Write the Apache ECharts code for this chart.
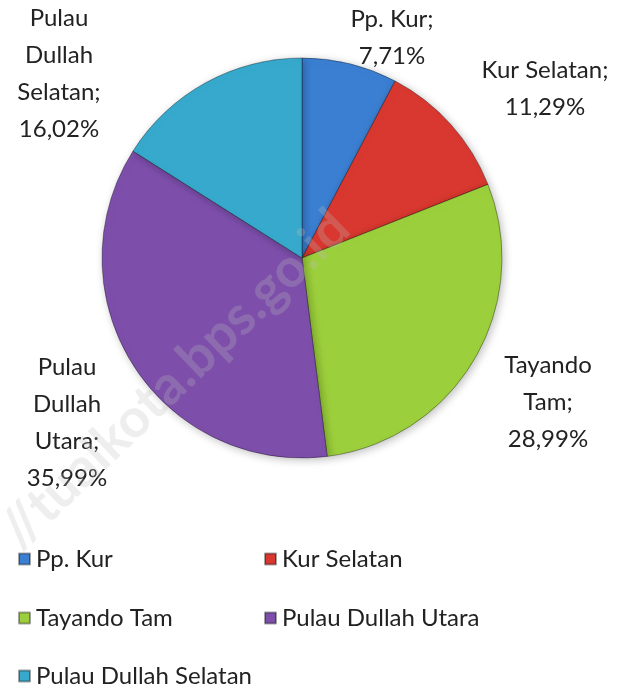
<!DOCTYPE html>
<html>
<head>
<meta charset="utf-8">
<script src="https://cdn.jsdelivr.net/npm/echarts@6/dist/echarts.min.js"></script>
<style>
  html, body { margin: 0; padding: 0; background: #fff; }
  #chart { width: 625px; height: 691px; }
</style>
</head>
<body>
<div id="chart"></div>
<script>
// data
const categories = ['Pp. Kur', 'Kur Selatan', 'Tayando Tam', 'Pulau Dullah Utara', 'Pulau Dullah Selatan']
const shares = [7.71, 11.29, 28.99, 35.99, 16.02]
const labelLines = [
    ['Pp. Kur;', '7,71%'],
    ['Kur Selatan;', '11,29%'],
    ['Tayando', 'Tam;', '28,99%'],
    ['Pulau', 'Dullah', 'Utara;', '35,99%'],
    ['Pulau', 'Dullah', 'Selatan;', '16,02%']
]
const colors = ['#3b7fd2', '#d8382f', '#9ccf3c', '#7d4fab', '#37a9cc']

// where each data label sits (top-centre of the text block)
const labelSpots = [[392, 1], [545, 52], [548, 347], [67, 349], [59, 0]]
// legend item positions
const legendSpots = [[13, 542], [259, 542], [13, 601], [259, 601], [13, 659]]

const font = 'Lato, "Open Sans", sans-serif'

const chart = echarts.init(document.getElementById('chart'))

const legends = categories.map((name, i) => ({
    data: [name],
    left: legendSpots[i][0],
    top: legendSpots[i][1],
    itemWidth: 11,
    itemHeight: 11,
    itemGap: 0,
    icon: 'rect',
    selectedMode: false,
    textStyle: { fontFamily: font, fontSize: 24, color: '#222', padding: [0, 0, 0, 1] }
}))

chart.setOption({
    animation: false,
    backgroundColor: '#fff',
    color: colors,
    legend: legends,
    graphic: [{
        type: 'text',
        left: -10,
        top: 200,
        rotation: Math.PI / 4.1,
        z: 100,
        style: {
            text: '//tualkota.bps.go.id',
            font: 'bold 54px ' + font,
            fill: 'rgba(190, 190, 190, 0.26)'
        }
    }],
    series: [{
        type: 'pie',
        center: [302, 258],
        radius: 200,
        startAngle: 90,
        clockwise: true,
        data: categories.map((name, i) => ({ name, value: shares[i] })),
        itemStyle: {
            borderColor: 'rgba(0,0,0,0.35)',
            borderWidth: 1,
            shadowBlur: 8,
            shadowColor: 'rgba(0,0,0,0.25)',
            shadowOffsetX: 2,
            shadowOffsetY: 2
        },
        label: {
            show: true,
            position: 'outside',
            formatter: (p) => labelLines[p.dataIndex].join('\n'),
            fontFamily: font,
            fontSize: 24,
            lineHeight: 37,
            color: '#222',
            align: 'center',
            overflow: 'none'
        },
        labelLine: { show: false },
        labelLayout: (p) => ({
            x: labelSpots[p.dataIndex][0],
            y: labelSpots[p.dataIndex][1],
            align: 'center',
            verticalAlign: 'top'
        }),
        emphasis: { disabled: true }
    }]
})

window.addEventListener('resize', () => chart.resize())
</script>
</body>
</html>
